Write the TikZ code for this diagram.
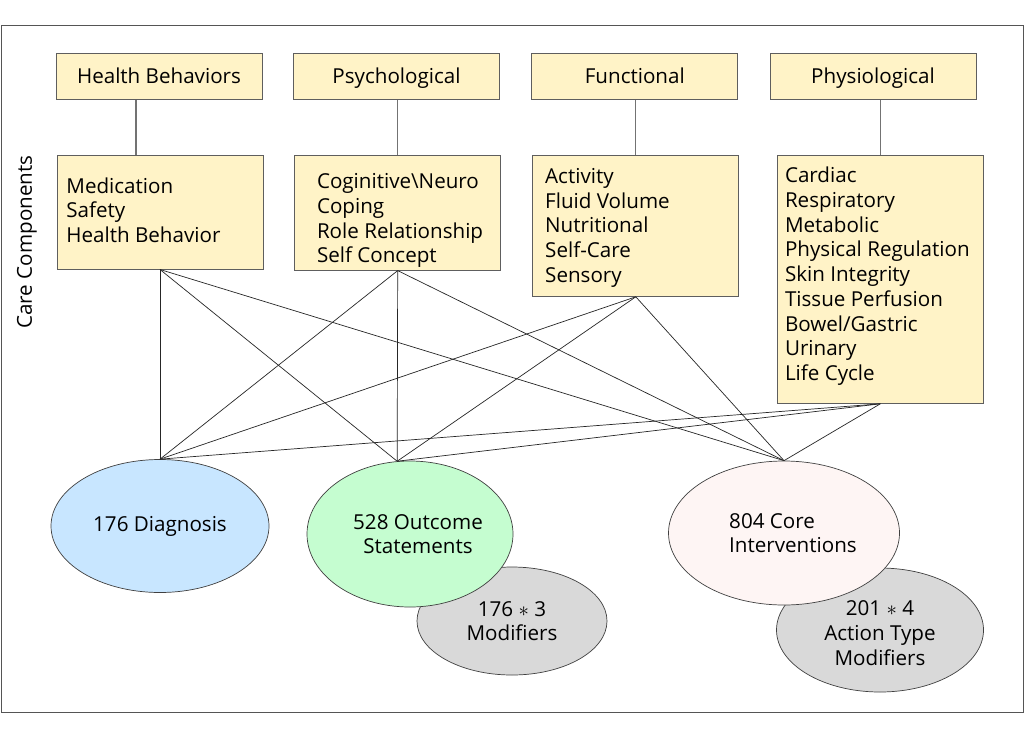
\documentclass[tikz,border=0pt]{standalone}
\usepackage{fontspec}
\setmainfont{Open Sans}
\usetikzlibrary{shapes.geometric}
\definecolor{boxfill}{HTML}{FFF3C7}
\definecolor{boxdraw}{HTML}{5E5E5E}
\definecolor{diagfill}{HTML}{C8E6FF}
\definecolor{outfill}{HTML}{C5FDD0}
\definecolor{corefill}{HTML}{FEF5F4}
\definecolor{modfill}{HTML}{D9D9D9}
\definecolor{framecol}{HTML}{555555}
\tikzset{
  catbox/.style={draw=boxdraw, fill=boxfill, line width=1pt, minimum width=206pt, minimum height=46pt, inner sep=0pt, text height=17.5pt, text depth=3pt},
  itembox/.style={draw=boxdraw, fill=boxfill, line width=1pt, minimum width=206pt, inner sep=0pt},
  lbl/.style={anchor=west, align=left, inner sep=0pt},
  oval/.style={ellipse, draw=black!75, line width=0.7pt, inner sep=0pt, align=center},
  stem/.style={draw=black!55, line width=1.2pt},
  link/.style={draw=black!85, line width=0.7pt}
}
\begin{document}
\begin{tikzpicture}[x=1pt, y=-1pt, font=\fontsize{20.6}{24.7}\selectfont]
\useasboundingbox (0,0) rectangle (1024,734);
\fill[white] (0,0) rectangle (1024,734);
\draw[framecol, line width=1pt] (1,25.5) rectangle (1023,712);

% category boxes
\node[catbox] (hbt) at (159,76) {Health Behaviors};
\node[catbox] (pst) at (396.5,76) {Psychological};
\node[catbox] (fnt) at (634.8,76) {Functional};
\node[catbox] (pht) at (873,76) {Physiological};

% item boxes
\node[itembox, minimum height=114pt,
  label={[lbl, xshift=9.7pt, yshift=2pt]west:{Medication\\Safety\\Health Behavior}}] (hb) at (160,212) {};
\node[itembox, minimum height=115pt,
  label={[lbl, xshift=22.6pt, yshift=-8pt]west:{Coginitive\textbackslash Neuro\\Coping\\Role Relationship\\Self Concept}}] (ps) at (397.7,212.6) {};
\node[itembox, minimum height=141pt,
  label={[lbl, xshift=12.7pt, yshift=-2pt]west:{Activity\\Fluid Volume\\Nutritional\\Self-Care\\Sensory}}] (fn) at (635.8,225.8) {};
\node[itembox, minimum height=248pt,
  label={[lbl, xshift=8pt, yshift=3pt]west:{Cardiac\\Respiratory\\Metabolic\\Physical Regulation\\Skin Integrity\\Tissue Perfusion\\Bowel/Gastric\\Urinary\\Life Cycle}}] (ph) at (880.3,279.3) {};

\node[rotate=90] (cc) at (27,242) {Care Components};

% stems
\draw[stem] ([xshift=-24pt]hb.north |- hbt.south) -- ([xshift=-24pt]hb.north);
\draw[stem] (ps.north |- pst.south) -- (ps.north);
\draw[stem] (fn.north |- fnt.south) -- (fn.north);
\draw[stem] (ph.north |- pht.south) -- (ph.north);

% ellipses
\node[oval, fill=modfill, minimum width=190pt, minimum height=108pt] (m1) at (512,621) {176 $\ast$ 3\\Modifiers};
\node[oval, fill=modfill, minimum width=207pt, minimum height=124pt,
  label={[align=center, inner sep=0pt, yshift=-3pt]center:{201 $\ast$ 4\\Action Type\\Modifiers}}] (m2) at (880,630) {};
\node[oval, fill=diagfill, minimum width=218pt, minimum height=133pt] (dg) at (160,526) {176 Diagnosis};
\node[oval, fill=outfill, minimum width=206pt, minimum height=146pt,
  label={[align=center, inner sep=0pt, xshift=8pt]center:{528 Outcome\\Statements}}] (oc) at (410,534) {};
\node[oval, fill=corefill, minimum width=231pt, minimum height=144pt,
  label={[align=left, inner sep=0pt, xshift=9pt]center:{804 Core\\Interventions}}] (co) at (784,533) {};

% links
\foreach \s in {hb,ps,fn,ph}{
  \draw[link] (\s.south) -- (dg.north);
  \draw[link] (\s.south) -- (oc.100);
  \draw[link] (\s.south) -- (co.north);
}
\end{tikzpicture}
\end{document}
